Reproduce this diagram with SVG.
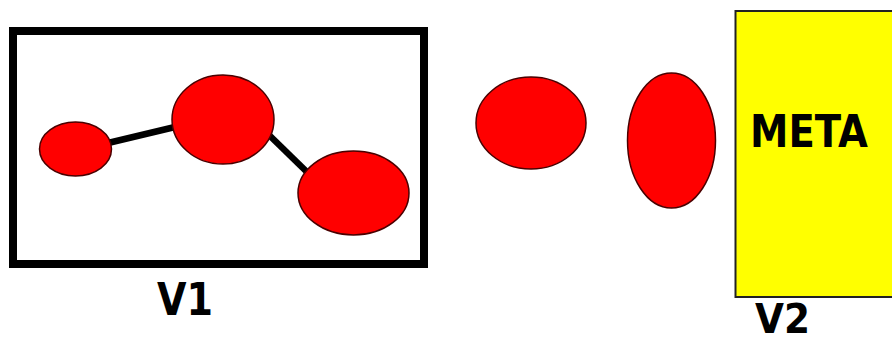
<svg xmlns="http://www.w3.org/2000/svg" width="892" height="343" viewBox="0 0 892 343">
<style>
.dot{fill:#ff0000;stroke:#4a0000;stroke-width:1.5}
.edge{stroke:#000;stroke-width:6.5;fill:none}
.lbl{font-family:"DejaVu Sans",Verdana,sans-serif;font-weight:bold;fill:#000}
</style>
<rect width="892" height="343" fill="#fff"/>
<g id="V1-box">
<rect x="13" y="31" width="411" height="233" fill="none" stroke="#000" stroke-width="8"/>
</g>
<g id="connectors">
<line class="edge" x1="108" y1="143" x2="175" y2="127"/>
<line class="edge" x1="268" y1="134" x2="308" y2="173"/>
</g>
<g id="n1"><ellipse class="dot" cx="75.5" cy="149" rx="36" ry="27"/></g>
<g id="n2"><ellipse class="dot" cx="223" cy="119.5" rx="51" ry="44.5"/></g>
<g id="n3"><ellipse class="dot" cx="353.5" cy="193" rx="55.5" ry="42"/></g>
<g id="n4"><ellipse class="dot" cx="531" cy="123" rx="55" ry="46"/></g>
<g id="n5"><ellipse class="dot" cx="671.5" cy="140.5" rx="44" ry="67.5"/></g>
<g id="V2-box">
<rect x="735.5" y="11" width="170" height="286" fill="#ffff00" stroke="#222" stroke-width="2"/>
<text class="lbl" x="750" y="147" font-size="44" textLength="118" lengthAdjust="spacingAndGlyphs">META</text>
</g>
<g id="V1-label"><text class="lbl" x="157" y="315" font-size="45" textLength="56" lengthAdjust="spacingAndGlyphs">V1</text></g>
<g id="V2-label"><text class="lbl" x="755" y="333" font-size="40" textLength="55" lengthAdjust="spacingAndGlyphs">V2</text></g>
</svg>
